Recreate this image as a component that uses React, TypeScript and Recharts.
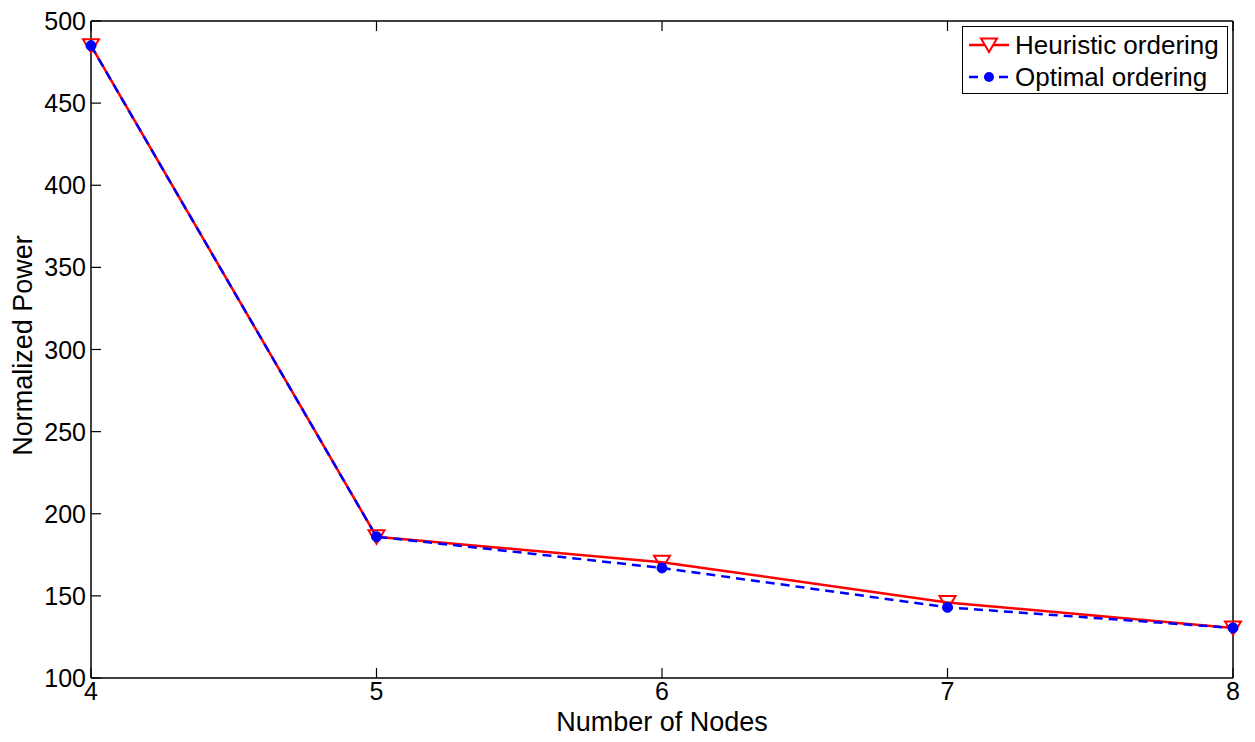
import React from 'react';
import { LineChart, Line, XAxis, YAxis, Legend, Label } from 'recharts';

const nodes = [4, 5, 6, 7, 8];
const heuristic = [485, 186, 170.5, 146, 130.5];
const optimal = [485, 186, 167, 143, 130.5];
const xTicks = [4, 5, 6, 7, 8];
const yTicks = [100, 150, 200, 250, 300, 350, 400, 450, 500];

const data = nodes.map((n, i) => ({ n, heuristic: heuristic[i], optimal: optimal[i] }));

const FONT = 'Liberation Sans, Arial, Helvetica, sans-serif';
const FS = 25;
const LFS = 26;
const AFS = 27;
const TICK = 10;

const triPath = (cx: number, cy: number) =>
  `M${cx - 8},${cy - 6.5} L${cx + 8},${cy - 6.5} L${cx},${cy + 7} Z`;

const TriDot = (props: any) => {
  const { cx, cy, index } = props;
  if (cx == null || cy == null) return <g key={`t${index}`} />;
  return <path key={`t${index}`} d={triPath(cx, cy)} fill="none" stroke="#ff0000" strokeWidth={2} />;
};

const CircDot = (props: any) => {
  const { cx, cy, index } = props;
  if (cx == null || cy == null) return <g key={`c${index}`} />;
  return <circle key={`c${index}`} cx={cx} cy={cy} r={5} fill="#0000ff" stroke="#0000ff" />;
};

const LeftTick = (props: any) => {
  const { x, y, payload } = props;
  return (
    <g>
      <line x1={x + 5} x2={x + 5 + TICK} y1={y} y2={y} stroke="#000" strokeWidth={1.2} />
      <text x={x} y={y + 9} textAnchor="end" fontFamily={FONT} fontSize={FS} fill="#000">
        {payload.value}
      </text>
    </g>
  );
};

const RightTick = (props: any) => {
  const { x, y } = props;
  return <line x1={x - TICK} x2={x} y1={y} y2={y} stroke="#000" strokeWidth={1.2} />;
};

const BottomTick = (props: any) => {
  const { x, y, payload } = props;
  return (
    <g>
      <line x1={x} x2={x} y1={y - TICK} y2={y} stroke="#000" strokeWidth={1.2} />
      <text x={x} y={y + 22} textAnchor="middle" fontFamily={FONT} fontSize={FS} fill="#000">
        {payload.value}
      </text>
    </g>
  );
};

const TopTick = (props: any) => {
  const { x, y } = props;
  return <line x1={x} x2={x} y1={y} y2={y + TICK} stroke="#000" strokeWidth={1.2} />;
};

const LegendContent = () => (
  <div
    style={{
      width: 264,
      height: 66,
      border: '1px solid #000',
      background: '#fff',
      fontFamily: FONT,
      fontSize: LFS,
      color: '#000',
      boxSizing: 'content-box',
      whiteSpace: 'nowrap',
    }}
  >
    <div style={{ display: 'flex', alignItems: 'center', height: 32, marginTop: 2 }}>
      <svg width={52} height={32} style={{ display: 'block', flex: 'none' }}>
        <line x1={6} x2={46} y1={16} y2={16} stroke="#ff0000" strokeWidth={2.5} />
        <path d={triPath(26, 16)} fill="#fff" stroke="#ff0000" strokeWidth={2} />
      </svg>
      <span style={{ lineHeight: '32px' }}>Heuristic ordering</span>
    </div>
    <div style={{ display: 'flex', alignItems: 'center', height: 32 }}>
      <svg width={52} height={32} style={{ display: 'block', flex: 'none' }}>
        <line x1={6} x2={46} y1={16} y2={16} stroke="#0000ff" strokeWidth={2.5} strokeDasharray="9 6" />
        <circle cx={26} cy={16} r={5} fill="#0000ff" />
      </svg>
      <span style={{ lineHeight: '32px' }}>Optimal ordering</span>
    </div>
  </div>
);

export default function App() {
  return (
    <div style={{ position: 'absolute', left: 0, top: 0, width: 1255, height: 742, background: '#fff' }}>
      <LineChart
        width={1255}
        height={742}
        data={data}
        margin={{ top: 20, right: 21, left: 0, bottom: 0 }}
      >
        <XAxis
          xAxisId="bottom"
          dataKey="n"
          type="number"
          domain={[4, 8]}
          ticks={xTicks}
          interval={0}
          height={64}
          tickSize={0}
          tickMargin={0}
          tickLine={false}
          tick={BottomTick}
          axisLine={{ stroke: '#000', strokeWidth: 1.5 }}
        >
          <Label
            content={(p: any) => {
              const vb = p.viewBox;
              return (
                <text x={vb.x + vb.width / 2} y={731} textAnchor="middle" fontFamily={FONT} fontSize={AFS} fill="#000">
                  Number of Nodes
                </text>
              );
            }}
          />
        </XAxis>
        <XAxis
          xAxisId="top"
          orientation="top"
          dataKey="n"
          type="number"
          domain={[4, 8]}
          ticks={xTicks}
          interval={0}
          height={1}
          tickSize={0}
          tickMargin={0}
          tickLine={false}
          tick={TopTick}
          axisLine={{ stroke: '#000', strokeWidth: 1.5 }}
        />
        <YAxis
          yAxisId="left"
          type="number"
          domain={[100, 500]}
          ticks={yTicks}
          interval={0}
          width={91}
          tickSize={0}
          tickMargin={5}
          tickLine={false}
          tick={LeftTick}
          axisLine={{ stroke: '#000', strokeWidth: 1.5 }}
        >
          <Label
            content={(p: any) => {
              const vb = p.viewBox;
              const cy = vb.y + vb.height / 2 - 4;
              return (
                <text
                  x={32}
                  y={cy}
                  transform={`rotate(-90, 32, ${cy})`}
                  textAnchor="middle"
                  fontFamily={FONT}
                  fontSize={AFS}
                  fill="#000"
                >
                  Normalized Power
                </text>
              );
            }}
          />
        </YAxis>
        <YAxis
          yAxisId="right"
          orientation="right"
          type="number"
          domain={[100, 500]}
          ticks={yTicks}
          interval={0}
          width={1}
          tickSize={0}
          tickMargin={0}
          tickLine={false}
          tick={RightTick}
          axisLine={{ stroke: '#000', strokeWidth: 1.5 }}
        />
        <Legend
          verticalAlign="middle"
          align="center"
          layout="horizontal"
          content={LegendContent}
          wrapperStyle={{ top: 26, left: 962, right: 'auto', bottom: 'auto', width: 266, height: 68 }}
        />
        <Line
          xAxisId="bottom"
          yAxisId="left"
          type="linear"
          dataKey="heuristic"
          stroke="#ff0000"
          strokeWidth={2.5}
          dot={TriDot}
          activeDot={false}
          isAnimationActive={false}
        />
        <Line
          xAxisId="bottom"
          yAxisId="left"
          type="linear"
          dataKey="optimal"
          stroke="#0000ff"
          strokeWidth={2.5}
          strokeDasharray="9 6"
          dot={CircDot}
          activeDot={false}
          isAnimationActive={false}
        />
      </LineChart>
    </div>
  );
}
